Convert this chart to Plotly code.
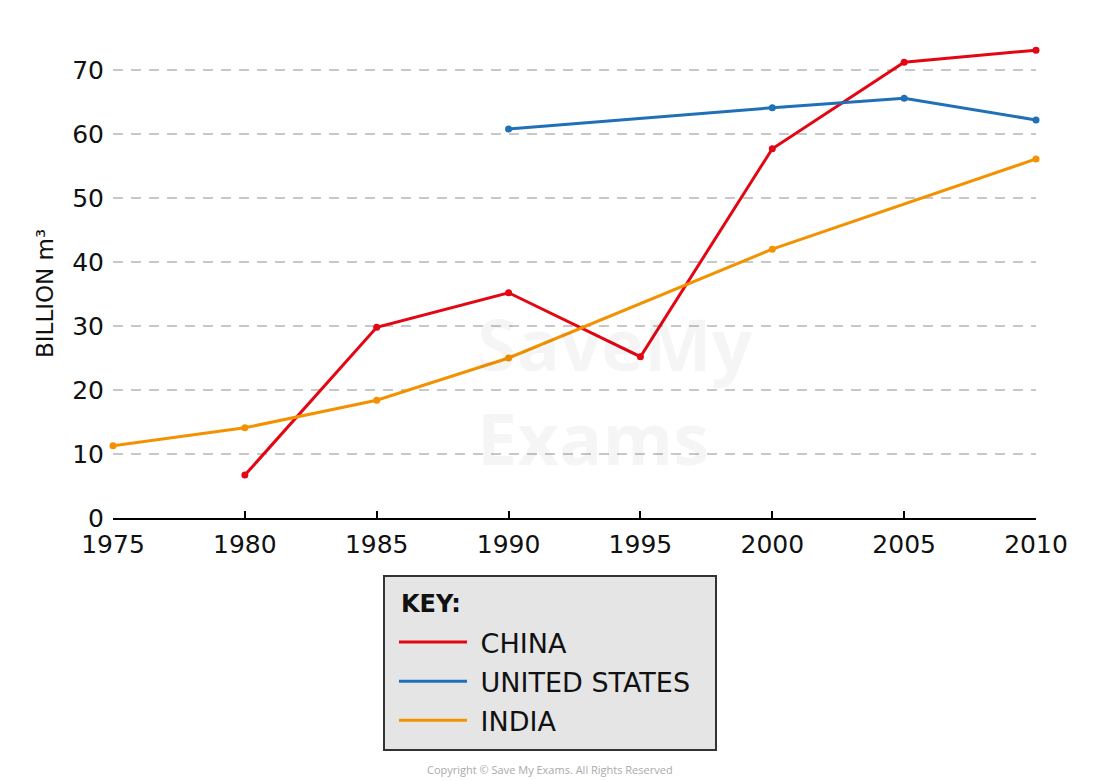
import plotly.graph_objects as go

# ---- data ----
china_years = [1980, 1985, 1990, 1995, 2000, 2005, 2010]
china_vals = [6.7, 29.8, 35.2, 25.2, 57.7, 71.2, 73.1]

us_years = [1990, 2000, 2005, 2010]
us_vals = [60.8, 64.1, 65.6, 62.2]

india_years = [1975, 1980, 1985, 1990, 2000, 2010]
india_vals = [11.3, 14.1, 18.4, 25.0, 42.0, 56.1]

x_ticks = [1975, 1980, 1985, 1990, 1995, 2000, 2005, 2010]
y_ticks = [0, 10, 20, 30, 40, 50, 60, 70]

FONT = "DejaVu Sans"
RED = "#e30613"
BLUE = "#1f70b7"
ORANGE = "#f39200"

series = [
    ("CHINA", china_years, china_vals, RED),
    ("UNITED STATES", us_years, us_vals, BLUE),
    ("INDIA", india_years, india_vals, ORANGE),
]

fig = go.Figure()
for name, xs, ys, col in series:
    fig.add_trace(go.Scatter(
        x=xs, y=ys, name=name, mode="lines+markers",
        line=dict(color=col, width=3),
        marker=dict(color=col, size=7),
        legendgroup=name, showlegend=False, cliponaxis=False,
    ))
# legend entries (line only, as in the key)
for name, xs, ys, col in series:
    fig.add_trace(go.Scatter(
        x=[None], y=[None], name="\u00a0" + name, mode="lines",
        line=dict(color=col, width=3),
        legendgroup=name, showlegend=True,
    ))

W_PLOT = 1036 - 113
H_PLOT = 518 - 38


def px_x(p):
    return (p - 113) / W_PLOT


def px_y(p):
    return (518 - p) / H_PLOT


fig.update_layout(
    width=1100, height=781, autosize=False,
    margin=dict(l=113, r=64, t=38, b=263),
    paper_bgcolor="white", plot_bgcolor="white",
    font=dict(family=FONT, color="#111"),
    xaxis=dict(
        range=[1975, 2010], tickvals=x_ticks,
        showline=True, linecolor="black", linewidth=2,
        ticks="inside", ticklen=7, tickwidth=2, tickcolor="black",
        showgrid=False, zeroline=False,
        tickfont=dict(size=25, family=FONT, color="#111"),
        ticklabelstandoff=3,
    ),
    yaxis=dict(
        range=[0, 75], tickvals=y_ticks,
        showgrid=True, gridcolor="#c8c8c8", gridwidth=2, griddash="10px,8px",
        zeroline=False, showline=False, ticks="",
        tickfont=dict(size=25, family=FONT, color="#111"),
        ticklabelstandoff=8,
    ),
    showlegend=True,
    legend=dict(
        x=px_x(394), xanchor="left",
        y=px_y(618), yanchor="top",
        bgcolor="rgba(0,0,0,0)", borderwidth=0,
        font=dict(size=27, family=FONT, color="#111"),
        traceorder="grouped", tracegroupgap=1,
        itemwidth=68,
    ),
    shapes=[dict(
        type="rect", xref="paper", yref="paper",
        x0=px_x(384), x1=px_x(716), y0=px_y(750), y1=px_y(576),
        fillcolor="#e5e5e5", line=dict(color="#333", width=2), layer="below",
    )],
)

# key title
fig.add_annotation(
    text="<b>KEY:</b>", showarrow=False,
    xref="paper", yref="paper", x=px_x(399), y=px_y(604),
    xanchor="left", yanchor="middle",
    font=dict(size=24, family=FONT, color="#111"),
)

# y-axis title
fig.add_annotation(
    text="BILLION m³", textangle=-90, showarrow=False,
    xref="paper", yref="y", x=px_x(45), y=35,
    xanchor="center", yanchor="middle",
    font=dict(size=23, family=FONT, color="#111"),
)

# watermark
fig.add_annotation(
    text="<b>SaveMy<br>Exams</b>", showarrow=False,
    xref="paper", yref="y", x=px_x(475), y=20,
    xanchor="left", yanchor="middle", align="left",
    font=dict(size=72, family="Open Sans", color="rgba(0,0,0,0.04)"),
)

# copyright
fig.add_annotation(
    text="Copyright © Save My Exams. All Rights Reserved", showarrow=False,
    xref="paper", yref="paper", x=px_x(550), y=px_y(769),
    xanchor="center", yanchor="middle",
    font=dict(size=11, family="Open Sans", color="#aaaaaa"),
)

fig.write_html("out.html")
